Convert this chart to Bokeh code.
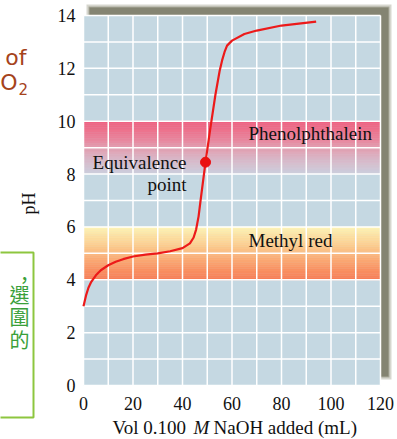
from math import pi
from bokeh.plotting import figure
from bokeh.models import Range1d
from bokeh.core.properties import value
from bokeh.embed import file_html
from bokeh.resources import INLINE

# ---- data ----
vol_ml = [0, 1, 2, 3, 5, 7, 10, 13, 16, 20, 25, 30, 35, 40, 43, 44.5, 45.5,
          46.5, 47.3, 49.3, 51.3, 53.3, 55, 56, 57, 58, 60, 65, 70, 80, 94]
ph = [3.0, 3.4, 3.7, 3.9, 4.17, 4.36, 4.55, 4.68, 4.78, 4.88, 4.95, 5.0, 5.08,
      5.2, 5.38, 5.6, 5.9, 6.4, 7.0, 8.45, 9.77, 11.0, 11.9, 12.3, 12.62,
      12.86, 13.05, 13.3, 13.43, 13.62, 13.77]
equiv_vol = [49.3]
equiv_ph = [8.45]
indicator_names = ["Phenolphthalein", "Methyl red"]
indicator_low = [8, 4]
indicator_high = [10, 6]
x_ticks = [0, 20, 40, 60, 80, 100, 120]
y_ticks = [0, 2, 4, 6, 8, 10, 12, 14]
x_grid_step = 10
y_grid_step = 1
x_min, x_max = 0, 120
y_min, y_max = 0, 14

# ---- layout / styles ----
W, H = 397, 439
FX0, FX1, FY0, FY1 = 83, 380, 15, 385   # plot area in pixels
SERIF = "Liberation Serif"
INK = "#111111"
band_stops = [
    [(0.0, (204, 208, 222)), (0.25, (216, 186, 202)), (0.5, (226, 158, 176)),
     (0.7, (234, 128, 152)), (1.0, (239, 96, 128))],
    [(0.0, (248, 124, 86)), (0.25, (250, 152, 104)), (0.5, (251, 186, 128)),
     (0.75, (252, 216, 154)), (1.0, (253, 243, 182))],
]


def dx(px):
    return x_min + (px - FX0) * (x_max - x_min) / (FX1 - FX0)


def dy(py):
    return y_min + (FY1 - py) * (y_max - y_min) / (FY1 - FY0)


def interp_color(stops, f):
    for (f0, c0), (f1, c1) in zip(stops[:-1], stops[1:]):
        if f <= f1:
            t = (f - f0) / (f1 - f0) if f1 > f0 else 0
            return "#%02x%02x%02x" % tuple(int(round(a + (b - a) * t)) for a, b in zip(c0, c1))
    return "#%02x%02x%02x" % stops[-1][1]


p = figure(width=W, height=H, x_range=Range1d(dx(0), dx(W)),
           y_range=Range1d(dy(H), dy(0)), output_backend="svg",
           toolbar_location=None, min_border=0,
           x_axis_location=None, y_axis_location=None)
p.grid.visible = False
p.background_fill_color = "white"
p.border_fill_color = "white"
p.outline_line_color = None


def txt(x, y, s, size="19px", font=SERIF, color=INK, align="left",
        baseline="middle", style="normal", angle=0):
    p.text(x=x, y=y, text=s, text_font=value(font), text_font_size=value(size),
           text_color=color, text_align=align, text_baseline=baseline,
           text_font_style=style, angle=angle)


# drop shadow (blurred look with layers)
for pad, col, alpha in [(3, "#a4a493", 0.45), (1, "#8d8d7a", 0.6), (0, "#7b7b68", 0.8)]:
    p.quad(left=dx(89 - pad), right=dx(388 + pad), top=dy(7 - pad), bottom=dy(376 + pad),
           fill_color=col, fill_alpha=alpha, line_color=None)

# plot background
p.quad(left=x_min, right=x_max, bottom=y_min, top=y_max, fill_color="#c5d8e2", line_color=None)

# indicator bands (gradient strips)
N = 24
for k in range(len(indicator_names)):
    lo, hi = indicator_low[k], indicator_high[k]
    step = (hi - lo) / N
    bottoms = [lo + i * step for i in range(N)]
    tops = [b + step for b in bottoms]
    cols = [interp_color(band_stops[k], (i + 0.5) / N) for i in range(N)]
    p.quad(left=x_min, right=x_max, bottom=bottoms, top=tops, fill_color=cols,
           line_color=cols, line_width=0.5)

# grid lines
gx = list(range(x_min, x_max + 1, x_grid_step))
gy = list(range(y_min, y_max + 1, y_grid_step))
p.segment(x0=gx, y0=[y_min] * len(gx), x1=gx, y1=[y_max] * len(gx),
          line_color="white", line_width=1.5)
p.segment(x0=[x_min] * len(gy), y0=gy, x1=[x_max] * len(gy), y1=gy,
          line_color="white", line_width=1.5)

# curve + equivalence point
p.line(vol_ml, ph, line_color="#ec1a1a", line_width=2.2)
p.scatter(equiv_vol, equiv_ph, size=10, fill_color="#ea1010", line_color="#ea1010")

# tick labels
txt(x_ticks, [dy(403)] * len(x_ticks), [str(t) for t in x_ticks], size="18px", align="center")
txt([dx(75)] * len(y_ticks), y_ticks, [str(t) for t in y_ticks], size="18px", align="right")

# band labels
txt([dx(248)], [dy(133)], [indicator_names[0]])
txt([dx(248)], [dy(240)], [indicator_names[1]])
txt([dx(186)], [dy(162)], ["Equivalence"], align="right")
txt([dx(186)], [dy(184)], ["point"], align="right")

# axis titles
txt([dx(28)], [dy(203)], ["pH"], size="18px", align="center", angle=pi / 2)
txt([dx(112)], [dy(427)], ["Vol 0.100"])
txt([dx(193)], [dy(427)], ["M"], style="italic")
txt([dx(213)], [dy(427)], ["NaOH added (mL)"])

# cut-off slide fragments on the left
BROWN = "#a5431b"
txt([dx(26)], [dy(57)], ["of"], size="22px", font="DejaVu Sans", color=BROWN, align="right")
txt([dx(17)], [dy(82)], ["O"], size="22px", font="DejaVu Sans", color=BROWN, align="right")
txt([dx(18)], [dy(88)], ["2"], size="15px", font="DejaVu Sans", color=BROWN, align="left")
p.quad(left=dx(-6), right=dx(33), top=dy(252), bottom=dy(417), fill_alpha=0,
       line_color="#8dc63f", line_width=2)
GREEN = "#3aa03a"
txt([dx(24)], [dy(279)], ["\uff0c"], size="20px", font="Noto Sans CJK TC", color=GREEN, align="center")
txt([dx(29)] * 3, [dy(294), dy(316), dy(339)], ["\u9078", "\u570d", "\u7684"],
    size="20px", font="Noto Sans CJK TC", color=GREEN, align="right")

open("out.html", "w").write(file_html(p, INLINE))
